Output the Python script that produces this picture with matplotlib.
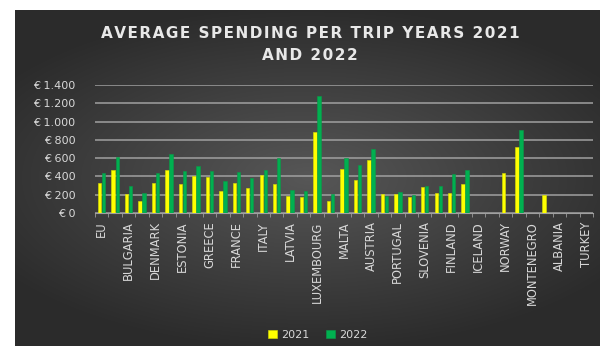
import numpy as np
import matplotlib
matplotlib.use("Agg")
import matplotlib.pyplot as plt
from matplotlib.ticker import FuncFormatter

# Average spending per trip (EUR) by country
countries = ["EU", "BELGIUM", "BULGARIA", "CZECHIA", "DENMARK", "GERMANY", "ESTONIA",
             "IRELAND", "GREECE", "SPAIN", "FRANCE", "CROATIA", "ITALY", "CYPRUS",
             "LATVIA", "LITHUANIA", "LUXEMBOURG", "HUNGARY", "MALTA", "NETHERLANDS",
             "AUSTRIA", "POLAND", "PORTUGAL", "ROMANIA", "SLOVENIA", "SLOVAKIA",
             "FINLAND", "SWEDEN", "ICELAND", "LIECHTENSTEIN", "NORWAY", "SWITZERLAND",
             "MONTENEGRO", "NORTH MACEDONIA", "ALBANIA", "SERBIA", "TURKEY"]
nan = np.nan
spend_2021 = [330, 470, 205, 135, 330, 470, 320, 405, 397, 245, 325, 270, 416, 317,
              186, 170, 890, 135, 485, 360, 580, 208, 205, 180, 281, 222, 220, 315,
              nan, nan, 440, 725, nan, 200, nan, nan, nan]
spend_2022 = [440, 610, 290, 215, 440, 645, 455, 518, 455, 350, 452, 380, 465, 598,
              250, 245, 1285, 212, 600, 522, 705, 185, 225, 200, 295, 300, 425, 465,
              nan, nan, nan, 910, nan, nan, nan, nan, nan]
years = ["2021", "2022"]
colors = ["#FFFF00", "#00B050"]
title_lines = ["AVERAGE SPENDING PER TRIP YEARS 2021", "AND 2022"]

W, H = 608, 354
fig = plt.figure(figsize=(W / 100, H / 100), dpi=100, facecolor="white")

# dark panel with a soft radial shading
bg = fig.add_axes([15 / W, 1 - 346 / H, 585 / W, 336 / H])
yy, xx = np.mgrid[-1:1:200j, -1:1:300j]
r = np.sqrt((xx * 0.9) ** 2 + (yy * 1.1) ** 2)
shade = np.clip(0.34 - 0.15 * r, 0.17, 0.34)
bg.imshow(np.dstack([shade] * 3), aspect="auto", extent=[0, 1, 0, 1], interpolation="bilinear")
bg.set_axis_off()

ax = fig.add_axes([95 / W, 1 - 213 / H, 498 / W, 128 / H])
ax.set_facecolor("none")
x = np.arange(len(countries))
bw = 0.25
ax.bar(x - 0.15, spend_2021, width=bw, color=colors[0], edgecolor="#D8E000", linewidth=0.4,
       label=years[0], zorder=3)
ax.bar(x + 0.15, spend_2022, width=bw, color=colors[1], edgecolor="#0A9A48", linewidth=0.4,
       label=years[1], zorder=3)

ax.set_xlim(-0.5, len(countries) - 0.5)
ax.set_ylim(0, 1400)
ax.set_yticks(np.arange(0, 1401, 200))
ax.yaxis.set_major_formatter(FuncFormatter(lambda v, p: "€ " + f"{int(v):,}".replace(",", ".")))
ax.grid(axis="y", color="#A0A0A0", linewidth=1.1, zorder=0)
for s in ["top", "right", "left"]:
    ax.spines[s].set_visible(False)
ax.spines["bottom"].set_color("#A0A0A0")
ax.tick_params(axis="y", length=0, labelsize=8, colors="#D8D8D8", pad=14)

shown = x[::2]
ax.set_xticks(shown)
ax.set_xticklabels([countries[i] for i in shown], rotation=90, fontsize=8.3, color="#D8D8D8")
ax.set_xticks(np.arange(-0.5, len(countries), 1), minor=True)
ax.tick_params(axis="x", which="major", length=0, pad=6)
ax.tick_params(axis="x", which="minor", length=3, color="#9A9A9A")

# letter-spaced title
spaced = ["\u200a".join(line) for line in title_lines]
fig.text(310 / W, 1 - 33 / H, spaced[0], ha="center", va="center",
         fontsize=11, fontweight="bold", color="#E8E8E8")
fig.text(310 / W, 1 - 55 / H, spaced[1], ha="center", va="center",
         fontsize=11, fontweight="bold", color="#E8E8E8")

leg = fig.legend(loc="center", bbox_to_anchor=(318 / W, 1 - 335 / H), ncol=2, frameon=False,
                 fontsize=8, handlelength=0.8, handleheight=0.8, handletextpad=0.4,
                 columnspacing=1.5)
for t in leg.get_texts():
    t.set_color("#D8D8D8")

fig.savefig("out.png", dpi=100, facecolor="white")
